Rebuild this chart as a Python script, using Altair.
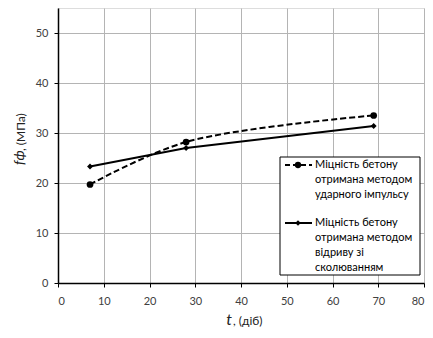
import altair as alt
import pandas as pd

days = [7, 28, 69]
impulse = [19.7, 28.2, 33.5]
pulloff = [23.3, 27.0, 31.4]

x_ticks = [0, 10, 20, 30, 40, 50, 60, 70, 80]
y_ticks = [0, 10, 20, 30, 40, 50]

name1 = "Міцність бетону\nотримана методом\nударного імпульсу"
name2 = "Міцність бетону\nотримана методом\nвідриву зі\nсколюванням"

df1 = pd.DataFrame({"t": days, "f": impulse})
df2 = pd.DataFrame({"t": days, "f": pulloff})

W, H = 366, 275
xs = alt.Scale(domain=[0, 80], nice=False)
ys = alt.Scale(domain=[0, 55], nice=False)
FONT = "Lato"

xax = alt.Axis(values=x_ticks, title=None, grid=True, gridColor="#b4b4b4", domainColor="black",
               domainWidth=1.5, tickColor="black", tickSize=4, labelFont=FONT, labelFontSize=11,
               labelColor="#404040", labelPadding=8)
yax = alt.Axis(values=y_ticks, title=None, grid=True, gridColor="#b4b4b4", domainColor="black",
               domainWidth=1.5, tickColor="black", tickSize=4, labelFont=FONT, labelFontSize=11,
               labelColor="#404040", labelPadding=6)

base1 = alt.Chart(df1)
base2 = alt.Chart(df2)

l1 = base1.mark_line(color="black", strokeWidth=2, strokeDash=[6, 3], interpolate="catmull-rom").encode(
    x=alt.X("t:Q", scale=xs, axis=xax), y=alt.Y("f:Q", scale=ys, axis=yax))
p1 = base1.mark_point(shape="circle", filled=True, color="black", size=45, opacity=1).encode(
    x=alt.X("t:Q", scale=xs), y=alt.Y("f:Q", scale=ys))
l2 = base2.mark_line(color="black", strokeWidth=2).encode(
    x=alt.X("t:Q", scale=xs), y=alt.Y("f:Q", scale=ys))
p2 = base2.mark_point(shape="diamond", filled=True, color="black", size=35, opacity=1).encode(
    x=alt.X("t:Q", scale=xs), y=alt.Y("f:Q", scale=ys))

one = pd.DataFrame({"a": [0]})
leg_box = alt.Chart(one).mark_rect(fill="white", stroke="black", strokeWidth=1).encode(
    x=alt.value(222), x2=alt.value(362), y=alt.value(149), y2=alt.value(267))
leg_l1 = alt.Chart(one).mark_rule(color="black", strokeWidth=2, strokeDash=[5, 3]).encode(
    x=alt.value(227), x2=alt.value(254), y=alt.value(157))
leg_p1 = alt.Chart(one).mark_point(shape="circle", filled=True, color="black", size=40, opacity=1).encode(
    x=alt.value(240), y=alt.value(157))
leg_l2 = alt.Chart(one).mark_rule(color="black", strokeWidth=2).encode(
    x=alt.value(227), x2=alt.value(254), y=alt.value(215))
leg_p2 = alt.Chart(one).mark_point(shape="diamond", filled=True, color="black", size=30, opacity=1).encode(
    x=alt.value(240), y=alt.value(215))
leg_t1 = alt.Chart(pd.DataFrame({"s": [name1]})).mark_text(
    align="left", baseline="middle", font=FONT, fontSize=11, lineBreak="\n", lineHeight=15,
    color="black").encode(x=alt.value(257), y=alt.value(157), text="s:N")
leg_t2 = alt.Chart(pd.DataFrame({"s": [name2]})).mark_text(
    align="left", baseline="middle", font=FONT, fontSize=11, lineBreak="\n", lineHeight=15,
    color="black").encode(x=alt.value(257), y=alt.value(215), text="s:N")

# axis titles
xt1 = alt.Chart(pd.DataFrame({"s": ["t"]})).mark_text(
    align="right", baseline="alphabetic", font=FONT, fontSize=16, fontStyle="italic", color="#222").encode(
    x=alt.value(174), y=alt.value(317), text="s:N")
xt2 = alt.Chart(pd.DataFrame({"s": [", (діб)"]})).mark_text(
    align="left", baseline="alphabetic", font=FONT, fontSize=12, color="#222").encode(
    x=alt.value(175), y=alt.value(317), text="s:N")
yt1 = alt.Chart(pd.DataFrame({"s": ["fф"]})).mark_text(
    align="left", baseline="middle", font=FONT, fontSize=14, fontStyle="italic", angle=270, color="#222").encode(
    x=alt.value(-38), y=alt.value(157), text="s:N")
yt2 = alt.Chart(pd.DataFrame({"s": [", (МПа)"]})).mark_text(
    align="left", baseline="middle", font=FONT, fontSize=12, angle=270, color="#222").encode(
    x=alt.value(-37), y=alt.value(143), text="s:N")

chart = alt.layer(l1, l2, p1, p2, leg_box, leg_l1, leg_p1, leg_l2, leg_p2, leg_t1, leg_t2,
                  xt1, xt2, yt1, yt2).properties(
    width=W, height=H, padding={"left": 50, "top": 0, "right": 1, "bottom": 46},
    autosize=alt.AutoSizeParams(type="none"),
).configure_view(stroke="black", strokeWidth=1.5).configure(background="white")

chart.save("out.html", embed_options={"renderer": "svg", "actions": False})
